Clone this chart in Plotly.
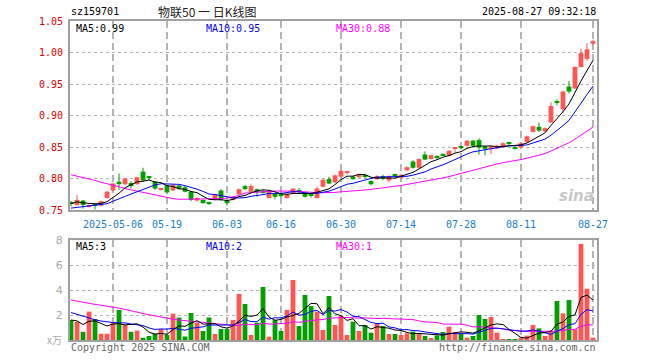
import pandas as pd
import plotly.graph_objects as go

# ---------------- data ----------------
opens = [0.761, 0.758, 0.765, 0.755, 0.758, 0.757, 0.769, 0.781, 0.795, 0.791,
         0.793, 0.791, 0.811, 0.802, 0.795, 0.782, 0.789, 0.781, 0.789, 0.786,
         0.779, 0.765, 0.766, 0.761, 0.767, 0.781, 0.765, 0.766, 0.775, 0.788,
         0.779, 0.783, 0.780, 0.769, 0.776, 0.776, 0.769, 0.777, 0.780, 0.777,
         0.774, 0.769, 0.787, 0.799, 0.794, 0.803, 0.809, 0.803, 0.802, 0.804,
         0.796, 0.799, 0.804, 0.797, 0.805, 0.801, 0.813, 0.827, 0.817, 0.838,
         0.831, 0.835, 0.839, 0.836, 0.848, 0.850, 0.852, 0.860, 0.861, 0.851,
         0.847, 0.848, 0.850, 0.856, 0.849, 0.849, 0.858, 0.874, 0.882, 0.875,
         0.889, 0.922, 0.910, 0.946, 0.943, 0.977, 0.990, 1.014]
highs = [0.764, 0.774, 0.766, 0.759, 0.761, 0.765, 0.780, 0.793, 0.808, 0.801,
         0.796, 0.803, 0.817, 0.804, 0.796, 0.784, 0.790, 0.791, 0.790, 0.788,
         0.780, 0.770, 0.767, 0.763, 0.776, 0.783, 0.766, 0.771, 0.784, 0.790,
         0.791, 0.784, 0.782, 0.780, 0.777, 0.777, 0.776, 0.785, 0.785, 0.778,
         0.776, 0.787, 0.799, 0.803, 0.806, 0.813, 0.812, 0.804, 0.807, 0.806,
         0.797, 0.805, 0.806, 0.805, 0.807, 0.807, 0.819, 0.829, 0.832, 0.843,
         0.838, 0.837, 0.840, 0.845, 0.850, 0.852, 0.861, 0.861, 0.864, 0.852,
         0.852, 0.853, 0.857, 0.858, 0.851, 0.857, 0.868, 0.884, 0.889, 0.881,
         0.921, 0.926, 0.939, 0.955, 0.978, 1.006, 1.015, 1.020]
lows = [0.756, 0.757, 0.752, 0.754, 0.751, 0.756, 0.768, 0.780, 0.782, 0.789,
        0.784, 0.790, 0.795, 0.797, 0.782, 0.781, 0.775, 0.780, 0.782, 0.778,
        0.764, 0.764, 0.760, 0.758, 0.766, 0.764, 0.757, 0.765, 0.774, 0.782,
        0.778, 0.771, 0.776, 0.768, 0.767, 0.770, 0.768, 0.776, 0.775, 0.770,
        0.770, 0.768, 0.786, 0.791, 0.793, 0.802, 0.806, 0.798, 0.801, 0.800,
        0.789, 0.798, 0.797, 0.794, 0.802, 0.800, 0.812, 0.816, 0.816, 0.829,
        0.830, 0.831, 0.836, 0.835, 0.841, 0.846, 0.851, 0.851, 0.838, 0.837,
        0.839, 0.847, 0.849, 0.853, 0.846, 0.848, 0.857, 0.873, 0.874, 0.874,
        0.888, 0.916, 0.904, 0.935, 0.942, 0.976, 0.987, 1.012]
closes = [0.760, 0.766, 0.758, 0.758, 0.757, 0.764, 0.779, 0.792, 0.791, 0.800,
          0.788, 0.802, 0.797, 0.801, 0.784, 0.783, 0.778, 0.790, 0.784, 0.779,
          0.766, 0.769, 0.761, 0.760, 0.775, 0.767, 0.762, 0.770, 0.783, 0.783,
          0.788, 0.778, 0.778, 0.779, 0.771, 0.772, 0.775, 0.784, 0.779, 0.771,
          0.773, 0.784, 0.798, 0.792, 0.805, 0.812, 0.811, 0.799, 0.806, 0.803,
          0.791, 0.804, 0.800, 0.804, 0.804, 0.806, 0.818, 0.817, 0.831, 0.830,
          0.837, 0.834, 0.837, 0.844, 0.849, 0.849, 0.860, 0.852, 0.849, 0.847,
          0.851, 0.852, 0.856, 0.855, 0.848, 0.856, 0.867, 0.883, 0.876, 0.880,
          0.915, 0.921, 0.938, 0.938, 0.977, 0.999, 1.005, 1.018]
volumes = [1.60, 1.45, 0.66, 2.27, 1.68, 0.50, 0.50, 1.45, 2.40, 1.20,
           0.66, 0.75, 0.18, 0.32, 0.48, 0.88, 0.40, 2.10, 1.80, 0.28,
           2.16, 1.39, 0.72, 1.80, 0.48, 0.88, 0.88, 1.60, 3.68, 2.88,
           0.40, 1.39, 4.24, 0.27, 1.60, 0.72, 2.40, 4.80, 1.12, 3.60,
           2.72, 2.27, 0.80, 3.52, 1.20, 1.92, 0.40, 1.47, 0.72, 1.20,
           0.59, 1.33, 1.12, 0.48, 0.48, 0.40, 0.53, 0.67, 0.53, 0.32,
           0.10, 0.37, 0.64, 1.07, 0.64, 0.53, 0.19, 0.32, 2.00, 1.68,
           1.84, 0.59, 0.08, 0.08, 0.08, 0.19, 0.35, 1.20, 0.93, 0.32,
           0.72, 3.12, 2.13, 3.20, 0.85, 7.68, 4.10, 0.19]

# moving-average values at the start of the window (read from the picture,
# they depend on days before the chart)
ma10_head = [0.753, 0.754, 0.755, 0.756, 0.757, 0.758, 0.760, 0.764, 0.768]
ma30_head = [0.806, 0.804, 0.801, 0.799, 0.797, 0.794, 0.792, 0.789, 0.787, 0.784,
             0.782, 0.780, 0.778, 0.776, 0.774, 0.772, 0.769, 0.768, 0.767, 0.767,
             0.767, 0.767, 0.767, 0.767, 0.767, 0.768, 0.769, 0.771, 0.773]
vma10_head = [2.20, 2.05, 1.90, 1.75, 1.62, 1.52, 1.45, 1.40, 1.37]
vma30_head = [3.20, 3.10, 3.00, 2.93, 2.85, 2.78, 2.72, 2.67, 2.55, 2.45,
              2.32, 2.22, 2.12, 2.02, 1.92, 1.83, 1.73, 1.66, 1.60, 1.55,
              1.50, 1.45, 1.39, 1.34, 1.28, 1.24, 1.20, 1.17, 1.16]

tick_index = [7, 16, 26, 35, 45, 55, 65, 75, 87]
tick_labels = ["2025-05-06", "05-19", "06-03", "06-16", "06-30",
               "07-14", "07-28", "08-11", "08-27"]
price_ticks = [0.75, 0.80, 0.85, 0.90, 0.95, 1.00, 1.05]
price_tick_labels = ["0.75", "0.80", "0.85", "0.90", "0.95", "1.00", "1.05"]
vol_ticks = [2, 4, 6, 8]
vol_tick_labels = ["2", "4", "6", "8"]

title_code = "sz159701"
title_name = "物联50 一 日K线图"
timestamp = "2025-08-27 09:32:18"
legend_price = ["MA5:0.99", "MA10:0.95", "MA30:0.88"]
legend_vol = ["MA5:3", "MA10:2", "MA30:1"]

# ---------------- derived series ----------------
n = len(closes)
idx = list(range(n))


def moving(values, window, head):
    s = pd.Series(values).rolling(window, min_periods=1).mean().tolist()
    for k, v in enumerate(head):
        s[k] = v
    return s


ma5 = moving(closes, 5, [])
ma10 = moving(closes, 10, ma10_head)
ma30 = moving(closes, 30, ma30_head)
vma5 = moving(volumes, 5, [])
vma10 = moving(volumes, 10, vma10_head)
vma30 = moving(volumes, 30, vma30_head)

RED = "#ff5555"
GREEN = "#00a000"
up = [c >= o for o, c in zip(opens, closes)]
colors = [RED if u else GREEN for u in up]
body_base = [min(o, c) for o, c in zip(opens, closes)]
body_h = [max(abs(c - o), 0.0017) for o, c in zip(opens, closes)]

fig = go.Figure()

# wicks
for col, flag in ((RED, True), (GREEN, False)):
    wx, wy = [], []
    for i in idx:
        if up[i] == flag:
            wx += [i, i, None]
            wy += [lows[i], highs[i], None]
    fig.add_trace(go.Scatter(x=wx, y=wy, mode="lines", line=dict(color=col, width=1),
                             hoverinfo="skip", xaxis="x", yaxis="y"))

# bodies
fig.add_trace(go.Bar(x=idx, y=body_h, base=body_base, width=0.8,
                     marker=dict(color=colors, line=dict(width=0)),
                     xaxis="x", yaxis="y"))

# price MAs
for ys, col in ((ma30, "#ff00ff"), (ma10, "#0000ff"), (ma5, "#000000")):
    fig.add_trace(go.Scatter(x=idx, y=ys, mode="lines", line=dict(color=col, width=1),
                             xaxis="x", yaxis="y"))

# volume
fig.add_trace(go.Bar(x=idx, y=volumes, width=0.8,
                     marker=dict(color=colors, line=dict(width=0)),
                     xaxis="x2", yaxis="y2"))
for ys, col in ((vma30, "#ff00ff"), (vma10, "#0000ff"), (vma5, "#000000")):
    fig.add_trace(go.Scatter(x=idx, y=ys, mode="lines", line=dict(color=col, width=1),
                             xaxis="x2", yaxis="y2"))

# ---------------- layout ----------------
W, H = 660, 360
L, R, T, B = 70, 63, 21, 20          # plot area edges in page pixels
PW, PH = W - L - R, H - T - B


def px(x):
    return (x - L) / PW


def py(y):
    return (H - B - y) / PH


MONO = "DejaVu Sans Mono"
FRAME = "#a0a0a0"
GRID = "#b4b4b4"

xcommon = dict(range=[-0.17, 87.67], tickvals=tick_index, showgrid=True,
               gridcolor=GRID, griddash="7px,4px", gridwidth=1.5,
               showline=True, mirror=True, linecolor=FRAME, linewidth=2,
               zeroline=False, fixedrange=True)

fig.update_layout(
    width=W, height=H,
    margin=dict(l=L, r=R, t=T, b=B),
    paper_bgcolor="white", plot_bgcolor="white",
    showlegend=False, barmode="overlay",
    xaxis=dict(**xcommon, anchor="y", ticktext=tick_labels,
               tickfont=dict(family=MONO, size=10, color="#1a80d0"),
               ticks="outside", ticklen=4, tickcolor="rgba(0,0,0,0)"),
    xaxis2=dict(**xcommon, anchor="y2", matches="x", showticklabels=False,
                ticktext=tick_labels),
    yaxis=dict(domain=[py(210), 1], range=[0.75, 1.05], tickvals=price_ticks,
               ticktext=price_tick_labels,
               tickfont=dict(family=MONO, size=10, color="#e00000"),
               ticks="outside", ticklen=3, tickcolor="rgba(0,0,0,0)",
               showgrid=True, gridcolor=GRID, griddash="dot", gridwidth=1,
               showline=True, mirror=True, linecolor=FRAME, linewidth=2,
               zeroline=False, fixedrange=True),
    yaxis2=dict(domain=[0, py(240)], range=[0, 8], tickvals=vol_ticks,
                ticktext=vol_tick_labels,
                tickfont=dict(family="DejaVu Sans", size=11, color="#aaaaaa"),
                ticks="outside", ticklen=3, tickcolor="rgba(0,0,0,0)",
                showgrid=True, gridcolor=GRID, griddash="dot", gridwidth=1,
                showline=True, mirror=True, linecolor=FRAME, linewidth=2,
                zeroline=False, fixedrange=True),
)


def note(text, x, y, color="#000", size=10, family=MONO, anchor="left", **kw):
    fig.add_annotation(text=text, x=px(x), y=py(y), xref="paper", yref="paper",
                       xanchor=anchor, yanchor="middle", showarrow=False,
                       borderpad=0,
                       font=dict(family=family, size=size, color=color), **kw)


note(title_code, 70, 12)
note(title_name, 207, 11, color="#222", size=12, family="Noto Sans CJK SC", anchor="center")
note(timestamp, 597, 12, anchor="right")

leg_x = [75, 205, 335]
leg_c = ["#000000", "#0000ff", "#ff00ff"]
for t, x, c in zip(legend_price, leg_x, leg_c):
    note(t, x, 28, color=c)
for t, x, c in zip(legend_vol, leg_x, leg_c):
    note(t, x, 246, color=c)

note("x万", 63, 339, color="#aaaaaa", size=10, family="Noto Sans CJK SC", anchor="right")
note("Copyright 2025 SINA.COM", 70, 347, color="#666666")
note("http://finance.sina.com.cn", 597, 347, color="#666666", anchor="right")
note("<b><i>sina</i></b>", 595, 196, color="#c8c8c8", size=15,
     family="DejaVu Sans", anchor="right")

# the page body has a default 8px margin; remove it so the figure sits at 0,0
fig.write_html("out.html", config={"displayModeBar": False},
               post_script="document.body.style.margin='0';document.body.style.overflow='hidden';")
